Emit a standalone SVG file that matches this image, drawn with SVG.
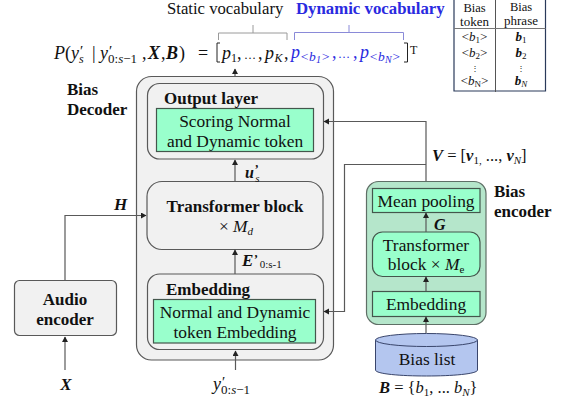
<svg xmlns="http://www.w3.org/2000/svg" width="570" height="403" viewBox="0 0 570 403">
<style>
text{font-family:"Liberation Serif","DejaVu Serif",serif;fill:#111}
.b{font-weight:bold}.i{font-style:italic}.n{font-style:normal}.bi{font-weight:bold;font-style:italic}
.c{text-anchor:middle}
.box{fill:#f1f1f1;stroke:#595959;stroke-width:1.2}
.g{fill:#99ffcc;stroke:#44564c;stroke-width:1.2}
.l{fill:none;stroke:#595959;stroke-width:1.2}
.br{fill:none;stroke:#9a9a9a;stroke-width:1}
.bb{fill:none;stroke:#8a8ad8;stroke-width:1}
.t{font-size:17.400px}.h{font-size:17px;font-weight:bold}
.blue{fill:#2a2ae0}
</style>
<defs><marker id="a" markerWidth="7" markerHeight="7" refX="5" refY="3" orient="auto" markerUnits="userSpaceOnUse"><path d="M0 0L5.500 3L0 6Z" fill="#222"/></marker></defs>

<g id="bias-decoder">
<rect class="box" x="136.500" y="76.500" width="197" height="283.500" rx="15"/>
<text class="h" x="67" y="95">Bias</text><text class="h" x="67" y="115">Decoder</text>
</g>
<g id="output-layer">
<rect class="box" x="147.500" y="83.500" width="176" height="75.500" rx="12"/>
<text class="h" x="164" y="104">Output layer</text>
<rect class="g" x="156.500" y="108.500" width="157" height="43"/>
<text class="t c" x="235" y="127">Scoring Normal</text><text class="t c" x="235" y="147">and Dynamic token</text>
</g>
<g id="transformer-block">
<rect class="box" x="147" y="181.500" width="176" height="68" rx="15"/>
<text class="h c" x="235" y="212">Transformer block</text>
<text class="t c" x="236" y="232">× <tspan class="i">M<tspan font-size="11" dy="3">d</tspan></tspan></text>
</g>
<g id="embedding">
<rect class="box" x="147.500" y="274" width="176" height="75.500" rx="12"/>
<text class="h" x="166" y="295">Embedding</text>
<rect class="g" x="153.500" y="299.500" width="162" height="43.500"/>
<text class="t c" x="235" y="318">Normal and Dynamic</text><text class="t c" x="235" y="338">token Embedding</text>
</g>
<g id="audio-encoder">
<rect class="box" x="14.500" y="280.500" width="102" height="55" rx="5"/>
<text class="h c" x="65" y="305">Audio</text><text class="h c" x="65" y="325">encoder</text>
</g>
<g id="bias-encoder">
<rect x="366.500" y="181.500" width="119.500" height="143" rx="12" fill="#b5e6cb" stroke="#5f6f66" stroke-width="1.200"/>
<text class="h" x="494" y="197">Bias</text><text class="h" x="494" y="217">encoder</text>
</g>
<g id="mean-pooling">
<rect class="g" x="372.500" y="188.500" width="107.500" height="24"/>
<text class="t c" x="426" y="207">Mean pooling</text>
</g>
<g id="bias-transformer">
<rect class="g" x="372.500" y="232" width="107.500" height="44.500" rx="10"/>
<text class="t c" x="426" y="251">Transformer</text>
<text class="t c" x="426" y="270">block × <tspan class="i">M</tspan><tspan font-size="11" dy="3">e</tspan></text>
</g>
<g id="bias-embedding">
<rect class="g" x="372.500" y="291.500" width="107.500" height="25"/>
<text class="t c" x="426" y="310">Embedding</text>
</g>
<g id="bias-list">
<path d="M375.500 340V370C375.500 378 477.500 378 477.500 370V340Z" fill="#b4c6ef" stroke="#39456b" stroke-width="1"/>
<ellipse cx="426.500" cy="340" rx="51" ry="6.500" fill="#b4c6ef" stroke="#39456b" stroke-width="1"/>
<text class="t c" x="427" y="365">Bias list</text>
</g>

<g id="connectors">
<path class="l" marker-end="url(#a)" d="M235 76V69"/>
<path class="l" marker-end="url(#a)" d="M235 181V160"/>
<path class="l" marker-end="url(#a)" d="M235 274V250"/>
<path class="l" marker-end="url(#a)" d="M235.500 370V351"/>
<path class="l" marker-end="url(#a)" d="M65 280V215.500H146"/>
<path class="l" marker-end="url(#a)" d="M65 370V337"/>
<path class="l" marker-end="url(#a)" d="M426 181V121.500H324"/>
<path class="l" marker-end="url(#a)" d="M426 164.500H344.500V311.500H324"/>
<path class="l" marker-end="url(#a)" d="M426 232V213"/>
<path class="l" marker-end="url(#a)" d="M426 291V277"/>
<path class="l" marker-end="url(#a)" d="M426 333V317"/>
<path class="br" d="M218.500 40V33H253L253 25M253 33H287V40"/>
<path class="bb" d="M294.500 40V32.500H349V25M349 32.500H403.500V40"/>
</g>

<g id="labels">
<text x="167" y="14" font-size="16.700">Static vocabulary</text>
<text class="blue b" x="296" y="14" font-size="16.800">Dynamic vocabulary</text>
<text class="i" y="59" font-size="18"><tspan x="54">P</tspan><tspan class="n" x="65">(</tspan><tspan x="71">y</tspan><tspan x="80" font-size="15" dy="-3" class="n">′</tspan><tspan x="79" font-size="12" dy="7">s</tspan><tspan class="n" x="92" dy="-4">|</tspan><tspan x="100">y</tspan><tspan x="109" font-size="15" dy="-3" class="n">′</tspan><tspan x="108" font-size="13" dy="7" class="n">0:</tspan><tspan font-size="13">s</tspan><tspan class="n" font-size="13">−1</tspan><tspan class="n" x="142" dy="-4">,</tspan><tspan class="bi" x="148">X</tspan><tspan class="n" x="161">,</tspan><tspan class="bi" x="166">B</tspan><tspan class="n" x="179">)</tspan></text>
<text x="198" y="59" font-size="18">=</text>
<path d="M220 43H217V62H220" fill="none" stroke="#222" stroke-width="1"/>
<text class="i" y="59" font-size="18"><tspan x="222">p</tspan><tspan class="n" x="231" font-size="12" dy="3">1</tspan><tspan class="n" x="237" dy="-3">,</tspan><tspan class="n" x="244" font-size="12">…</tspan><tspan class="n" x="258">,</tspan><tspan x="265">p</tspan><tspan x="274.500" font-size="12" dy="3">K</tspan><tspan class="n" x="284" dy="-3">,</tspan></text>
<text class="i blue" y="58" font-size="18"><tspan x="291">p</tspan><tspan x="300" font-size="13.500" dy="3">&lt;b</tspan><tspan font-size="10" dy="2">1</tspan><tspan font-size="13.500" dy="-2">&gt;</tspan><tspan class="n" x="332" dy="-3">,</tspan><tspan class="n" x="338" font-size="12">…</tspan><tspan class="n" x="353">,</tspan><tspan x="360">p</tspan><tspan x="369" font-size="13.500" dy="3">&lt;b</tspan><tspan font-size="10" dy="2">N</tspan><tspan font-size="13.500" dy="-2">&gt;</tspan></text>
<path d="M404 43H407.500V62H404" fill="none" stroke="#222" stroke-width="1"/>
<text x="410" y="54" font-size="12">T</text>
<text class="bi" x="245" y="178" font-size="16">u<tspan dy="-5" font-size="13">’</tspan><tspan font-size="11" dy="9" class="i" font-weight="normal" dx="-3">s</tspan></text>
<text class="bi" x="114" y="210" font-size="17">H</text>
<text class="bi" x="242" y="266" font-size="17">E<tspan font-size="13" dy="-3">’</tspan><tspan font-size="11" dy="5" font-weight="normal" font-style="normal" dx="2">0:s-1</tspan></text>
<text class="bi c" x="66" y="390" font-size="17">X</text>
<text class="i" x="213" y="390" font-size="18"><tspan>y</tspan><tspan x="222" font-size="15" dy="-3" class="n">′</tspan><tspan x="221" font-size="13" dy="7" class="n">0:</tspan><tspan font-size="13">s</tspan><tspan class="n" font-size="13">−1</tspan></text>
<text x="432" y="161" font-size="16.500"><tspan class="bi">V</tspan> = [<tspan class="bi">v</tspan><tspan font-size="11" dy="3">1,</tspan><tspan dy="-3"> ..., </tspan><tspan class="bi">v</tspan><tspan class="i" font-size="11" dy="3">N</tspan><tspan dy="-3">]</tspan></text>
<text class="bi" x="434" y="230" font-size="16">G</text>
<text x="379" y="393" font-size="16.500"><tspan class="bi">B</tspan> = {<tspan class="i">b</tspan><tspan font-size="11" dy="3">1</tspan><tspan dy="-3">, ... </tspan><tspan class="i">b</tspan><tspan class="i" font-size="11" dy="3">N</tspan><tspan dy="-3">}</tspan></text>
</g>

<g id="bias-table">
<path d="M454 0V91H545.500V0" fill="none" stroke="#2a3a5a" stroke-width="1.200"/>
<path d="M495.500 0V92" fill="none" stroke="#555" stroke-width="1"/>
<path d="M454 28.500H545.500" fill="none" stroke="#777" stroke-width="1"/>
<text class="c" x="474.500" y="11.500" font-size="12.500">Bias</text><text class="c" x="474.500" y="26" font-size="13">token</text>
<text class="c" x="521" y="11" font-size="12.500">Bias</text><text class="c" x="521" y="25" font-size="13">phrase</text>
<text class="c" x="474.500" y="41" font-size="13">&lt;<tspan class="i">b</tspan><tspan font-size="9" dy="2">1</tspan><tspan dy="-2">&gt;</tspan></text>
<text class="c" x="474.500" y="57" font-size="13">&lt;<tspan class="i">b</tspan><tspan font-size="9" dy="2">2</tspan><tspan dy="-2">&gt;</tspan></text>
<text class="c" x="475" y="71" font-size="8">⋮</text>
<text class="c" x="474.500" y="85" font-size="13">&lt;<tspan class="i">b</tspan><tspan font-size="9" dy="2">N</tspan><tspan dy="-2">&gt;</tspan></text>
<text class="c" x="521" y="41" font-size="13"><tspan class="bi">b</tspan><tspan font-size="9" dy="2">1</tspan></text>
<text class="c" x="521" y="57" font-size="13"><tspan class="bi">b</tspan><tspan font-size="9" dy="2">2</tspan></text>
<text class="c" x="521" y="71" font-size="8">⋮</text>
<text class="c" x="521" y="85" font-size="13"><tspan class="bi">b</tspan><tspan class="i" font-size="9" dy="2">N</tspan></text>
</g>
</svg>
